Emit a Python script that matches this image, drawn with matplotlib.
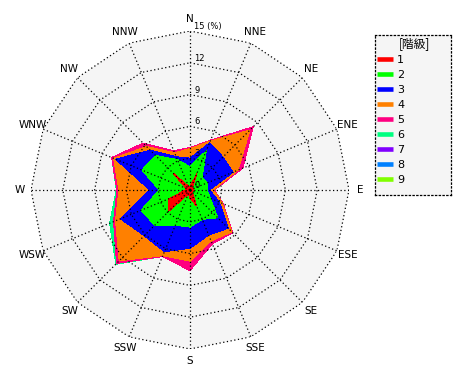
import numpy as np
import matplotlib
matplotlib.use("Agg")
import matplotlib.pyplot as plt
from matplotlib.lines import Line2D

directions = ["N", "NNE", "NE", "ENE", "E", "ESE", "SE", "SSE",
              "S", "SSW", "SW", "WSW", "W", "WNW", "NW", "NNW"]
classes = ["1", "2", "3", "4", "5", "6", "7", "8", "9"]
colors = ["#FF0000", "#00FF00", "#0000FF", "#FF8000", "#FF0080",
          "#00FF80", "#8000FF", "#0080FF", "#80FF00"]

# frequency (%) per class and direction, N..NNW clockwise
c1 = [0.3, 1.7, 0.3, 0.4, 0.3, 0.3, 0.3, 1.6, 0.8, 0.4, 2.8, 2.2, 0.4, 0.4, 2.2, 0.4]
c2 = [1.9, 2.3, 1.3, 1.4, 1.3, 1.8, 3.4, 1.4, 2.7, 3.2, 1.9, 2.8, 2.5, 4.5, 2.4, 2.7]
c3 = [0.8, 0.8, 2.8, 2.6, 0.25, 0.9, 1.4, 1.6, 2.0, 2.7, 1.4, 2.1, 0.9, 2.7, 0.7, 0.3]
c4 = [0.9, 0.2, 3.6, 0.5, 0.35, 0.3, 0.5, 0.6, 1.2, 0.4, 3.35, 0.5, 2.9, 0.2, 0.5, 0.4]
c5 = [0.1, 0.1, 0.45, 0.5, 0.1, 0.1, 0.1, 0.3, 0.9, 0.1, 0.35, 0.2, 0.2, 0.2, 0.45, 0.2]
c6 = [0.0, 0.0, 0.0, 0.0, 0.0, 0.0, 0.0, 0.0, 0.0, 0.0, 0.1, 0.4, 0.05, 0.0, 0.0, 0.0]
c7 = [0.0] * 16
c8 = [0.0] * 16
c9 = [0.0] * 16
series = [c1, c2, c3, c4, c5, c6, c7, c8, c9]
rings = [3, 6, 9, 12, 15]
ring_labels = ["3", "6", "9", "12", "15 (%)"]
rmax = 15

W, H = 470, 380
fig = plt.figure(figsize=(W / 100, H / 100), dpi=100)
cx, cy, R = 190, 190, 159
ax = fig.add_axes([(cx - R) / W, (H - cy - R) / H, 2 * R / W, 2 * R / H],
                  projection="polar")
ax.set_theta_zero_location("N")
ax.set_theta_direction(-1)
ax.set_ylim(0, rmax)
ax.grid(False)
ax.set_xticks([])
ax.set_yticks([])
ax.spines["polar"].set_visible(False)
ax.patch.set_visible(False)

theta = np.deg2rad(np.arange(16) * 22.5)
tc = np.append(theta, theta[0])

# background polygon
ax.fill(tc, np.full(17, rmax), color="#F5F5F5", zorder=0, lw=0)

cum = np.cumsum(np.array(series), axis=0)
for k in range(len(classes) - 1, -1, -1):
    if np.sum(series[k]) <= 0:
        continue
    vals = np.append(cum[k], cum[k][0])
    ax.fill(tc, vals, color=colors[k], lw=0, zorder=1 + (9 - k) * 0.01,
            antialiased=False)

dot = (0, (1, 2))
for r in rings:
    ax.plot(tc, np.full(17, r), color="black", lw=0.9, ls=dot, zorder=3)
for t in theta:
    ax.plot([t, t], [0, rmax], color="black", lw=0.9, ls=dot, zorder=3)

for t, name in zip(theta, directions):
    ax.text(t, 16.1, name, ha="center", va="center", fontsize=7.5,
            family="DejaVu Sans", clip_on=False)

ax.annotate("0", (0, 0), xytext=(3, 0), textcoords="offset points",
            ha="left", va="bottom", fontsize=6, zorder=4)
for r, lab in zip(rings, ring_labels):
    ax.annotate(lab, (0, r), xytext=(3, 0), textcoords="offset points",
                ha="left", va="bottom", fontsize=6, zorder=4,
                annotation_clip=False)

# legend box
lx0, lx1, ly0, ly1 = 375, 451, 35, 195
lax = fig.add_axes([lx0 / W, (H - ly1) / H, (lx1 - lx0) / W, (ly1 - ly0) / H])
lax.set_facecolor("#F5F5F5")
lax.set_xticks([])
lax.set_yticks([])
for s in lax.spines.values():
    s.set_linestyle(dot)
    s.set_linewidth(0.9)
handles = [Line2D([0], [0], color=c, lw=3.3, solid_capstyle="butt") for c in colors]
leg = lax.legend(handles, classes, loc="upper left", bbox_to_anchor=(0.0, 1.0),
                 frameon=False, fontsize=8, title="[階級]",
                 title_fontproperties={"family": ["Noto Sans CJK JP", "DejaVu Sans"], "size": 8.5},
                 handlelength=1.45, handletextpad=0.35, labelspacing=0.45,
                 borderaxespad=0.1, borderpad=0.1)
leg._legend_box.align = "left"
leg.get_title().set_position((22, 0))

fig.savefig("out.png", dpi=100)
